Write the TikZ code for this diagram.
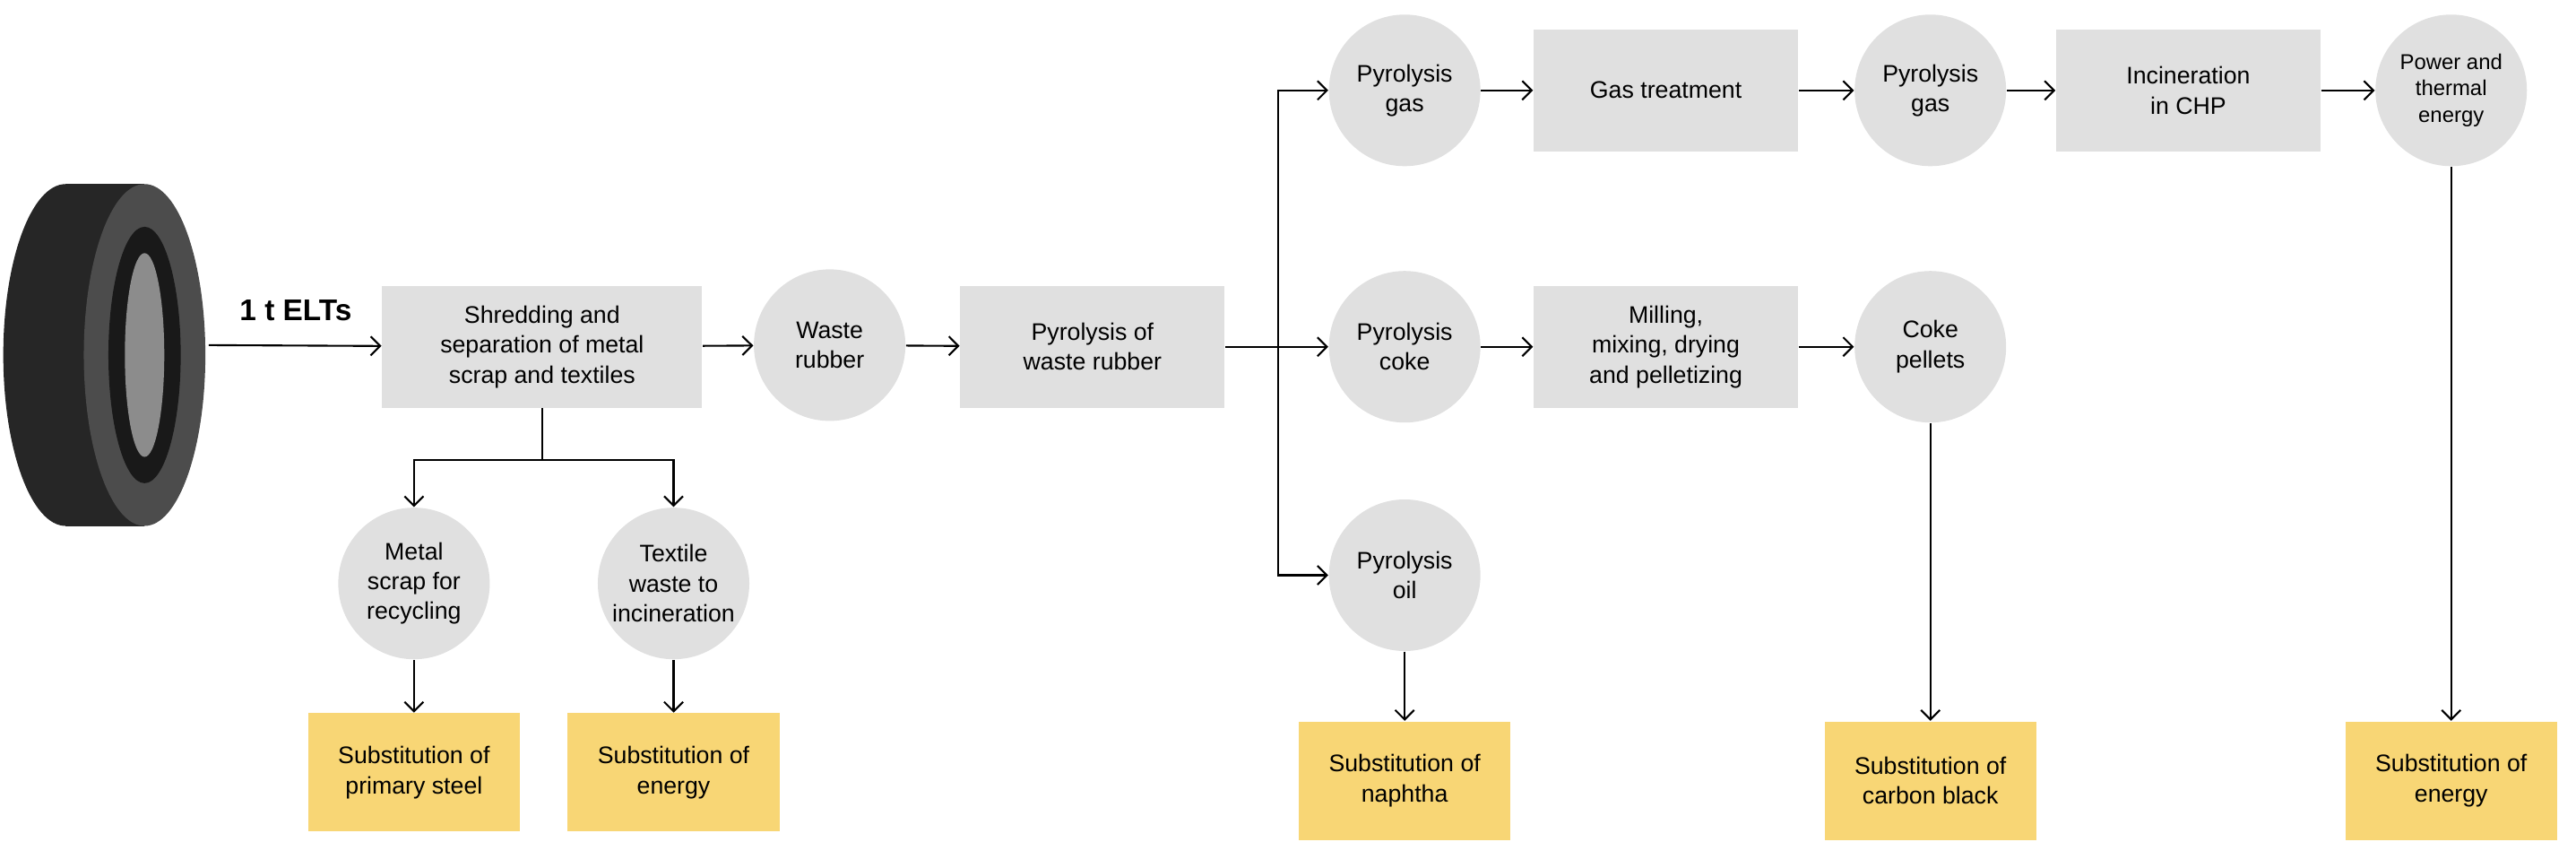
\documentclass[tikz,border=0pt]{standalone}
\usepackage{fontspec}
\setmainfont{Liberation Sans}
\usetikzlibrary{arrows.meta}
\definecolor{boxgray}{HTML}{E0E0E0}
\definecolor{subyellow}{HTML}{F8D675}
\tikzset{
	process/.style={fill=boxgray, minimum width=2.95cm, minimum height=1.36cm, inner sep=1pt, align=center, font=\fontsize{7.6}{9.5}\selectfont},
	prod/.style={circle, fill=boxgray, minimum size=1.69cm, inner sep=0pt, align=center, font=\fontsize{7.6}{9.5}\selectfont},
	subst/.style={fill=subyellow, minimum width=2.36cm, minimum height=1.32cm, inner sep=1pt, align=center, font=\fontsize{7.6}{9.5}\selectfont},
	flow/.style={-{Straight Barb[length=3pt]}, semithick}
}
\begin{document}
\begin{tikzpicture}[x=0.01833cm, y=0.01833cm]
\useasboundingbox (0,0) rectangle (1568,-528);
% tyre
\fill[black!85] (40,-112) rectangle (88,-320);
\fill[black!85] (40,-216) ellipse [x radius=38, y radius=104];
\fill[black!70] (88,-216) ellipse [x radius=37, y radius=104];
\fill[black!90] (88,-216) ellipse [x radius=22, y radius=78];
\fill[black!45] (88,-216) ellipse [x radius=12, y radius=62];
\coordinate (tyre) at (127,-210);
\node[font=\bfseries\fontsize{9.5}{11}\selectfont] (elts) at (180,-189) {1 t ELTs};
% main line
\node[process, minimum width=3.57cm] (shred) at (330,-211) {Shredding and\\separation of metal\\scrap and textiles};
\node[prod] (rubber) at (505,-210) {Waste\\rubber};
\node[process] (pyro) at (665,-211) {Pyrolysis of\\waste rubber};
\node[prod] (gas) at (855,-55) {Pyrolysis\\gas};
\node[prod] (coke) at (855,-211) {Pyrolysis\\coke};
\node[prod] (oil) at (855,-350) {Pyrolysis\\oil};
\node[process] (treat) at (1014,-55) {Gas treatment};
\node[prod] (gas2) at (1175,-55) {Pyrolysis\\gas};
\node[process] (chp) at (1332,-55) {Incineration\\in CHP};
\node[prod, font=\fontsize{6.8}{8.5}\selectfont] (power) at (1492,-55) {Power and\\thermal\\energy};
\node[process] (mill) at (1014,-211) {Milling,\\mixing, drying\\and pelletizing};
\node[prod] (pellet) at (1175,-211) {Coke\\pellets};
\node[prod] (metal) at (252,-355) {Metal\\scrap for\\recycling};
\node[prod] (textile) at (410,-355) {Textile\\waste to\\incineration};
% substitutions
\node[subst] (steel) at (252,-470) {Substitution of\\primary steel};
\node[subst] (energy) at (410,-470) {Substitution of\\energy};
\node[subst] (naphtha) at (855,-475) {Substitution of\\naphtha};
\node[subst] (black) at (1175,-475) {Substitution of\\carbon black};
\node[subst] (energy2) at (1492,-475) {Substitution of\\energy};
% arrows
\draw[flow] (tyre) -- (shred);
\draw[flow] (shred) -- (rubber);
\draw[flow] (rubber) -- (pyro);
\coordinate (split) at (778,-211);
\draw[semithick] (pyro) -- (split);
\draw[flow] (split) -- (coke);
\draw[flow] (split) |- (gas);
\draw[flow] (split) |- (oil);
\draw[flow] (gas) -- (treat);
\draw[flow] (treat) -- (gas2);
\draw[flow] (gas2) -- (chp);
\draw[flow] (chp) -- (power);
\draw[flow] (coke) -- (mill);
\draw[flow] (mill) -- (pellet);
\coordinate (fork) at (330,-280);
\draw[semithick] (shred) -- (fork);
\draw[flow] (fork) -| (metal);
\draw[flow] (fork) -| (textile);
\draw[flow] (metal) -- (steel);
\draw[flow] (textile) -- (energy);
\draw[flow] (oil) -- (naphtha);
\draw[flow] (pellet) -- (black);
\draw[flow] (power) -- (energy2);
\end{tikzpicture}
\end{document}
